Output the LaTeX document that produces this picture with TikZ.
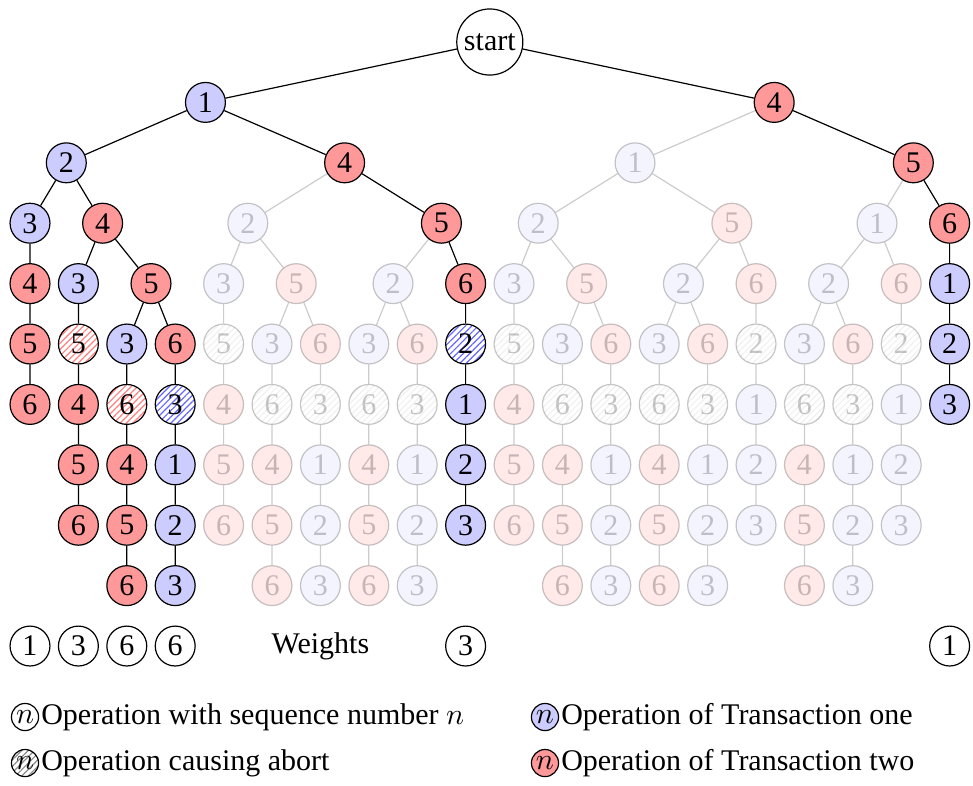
\documentclass[tikz,border=0pt]{standalone}
\usepackage{fontspec}
\setmainfont{Liberation Serif}
\usepackage{tikz}
\usetikzlibrary{positioning,patterns.meta}
\tikzset{
  op/.style={circle, draw, minimum size=13.3pt, inner sep=0pt},
  opone/.style={op, fill=blue!20},
  optwo/.style={op, fill=red!40},
  hatch/.style={pattern={Lines[angle=45, distance=1.5pt, line width=0.4pt]}},
  abortone/.style={op, hatch, pattern color=blue!60},
  aborttwo/.style={op, hatch, pattern color=red!50},
  faded/.style={opacity=0.22},
  fadedabort/.style={op, hatch, pattern color=black!25, faded},
  root/.style={circle, draw, inner sep=1.5pt},
  key/.style={circle, draw, inner sep=0.6pt},
  keytext/.style={inner sep=0.5pt},
  link/.style={draw, black},
  fadedlink/.style={draw, black, opacity=0.2}
}

\begin{document}
\begin{tikzpicture}[x=0.567cm, y=-0.7076cm]
			%%%%% START %%%%%
			\useasboundingbox (-0.6198, -0.6954) rectangle (19.483, 12.301);
			
			\node[root] (start) at (9.5, 0) {start};
			
			\node[opone] (r1a) at (3.625, 1) {1};
			\node[optwo] (r1b) at (15.375, 1) {4};
			
			\node[opone] (r2a) at (0.75, 2) {2};
			\node[optwo] (r2b) at (6.5, 2) {4};
			\node[opone, faded] (r2c) at (12.5, 2) {1};
			\node[optwo] (r2d) at (18.25, 2) {5};
			
			\node[opone] (r3c0) at (0, 3) {3};
			\node[optwo] (r3c1h) at (1.5, 3) {4};
			\node[opone, faded] (r3c4h) at (4.5, 3) {2};
			\node[optwo] (r3c8h) at (8.5, 3) {5};
			\node[opone, faded] (r3c10h) at (10.5, 3) {2};
			\node[optwo, faded] (r3c14h) at (14.5, 3) {5};
			\node[opone, faded] (r3c17h) at (17.5, 3) {1};
			\node[optwo] (r3c19) at (19, 3) {6};
			
			\node[optwo] (r4c0) at (0, 4) {4};
			\node[opone] (r4c1) at (1, 4) {3};
			\node[optwo] (r4c2h) at (2.5, 4) {5};
			\node[opone, faded] (r4c4) at (4, 4) {3};
			\node[optwo, faded] (r4c5h) at (5.5, 4) {5};
			\node[opone, faded] (r4c7h) at (7.5, 4) {2};
			\node[optwo] (r4c9) at (9, 4) {6};
			\node[opone, faded] (r4c10) at (10, 4) {3};
			\node[optwo, faded] (r4c11h) at (11.5, 4) {5};
			\node[opone, faded] (r4c13h) at (13.5, 4) {2};
			\node[optwo, faded] (r4c15) at (15, 4) {6};
			\node[opone, faded] (r4c16h) at (16.5, 4) {2};
			\node[optwo, faded] (r4c18) at (18, 4) {6};
			\node[opone] (r4c19) at (19, 4) {1};
			
			\node[optwo] (r5c0) at (0, 5) {5};
			\node[aborttwo] (r5c1) at (1, 5) {5};
			\node[opone] (r5c2) at (2, 5) {3};
			\node[optwo] (r5c3) at (3, 5) {6};
			\node[fadedabort] (r5c4) at (4, 5) {5};
			\node[opone, faded] (r5c5) at (5, 5) {3};
			\node[optwo, faded] (r5c6) at (6, 5) {6};
			\node[opone, faded] (r5c7) at (7, 5) {3};
			\node[optwo, faded] (r5c8) at (8, 5) {6};
			\node[abortone] (r5c9) at (9, 5) {2};
			\node[fadedabort] (r5c10) at (10, 5) {5};
			\node[opone, faded] (r5c11) at (11, 5) {3};
			\node[optwo, faded] (r5c12) at (12, 5) {6};
			\node[opone, faded] (r5c13) at (13, 5) {3};
			\node[optwo, faded] (r5c14) at (14, 5) {6};
			\node[fadedabort] (r5c15) at (15, 5) {2};
			\node[opone, faded] (r5c16) at (16, 5) {3};
			\node[optwo, faded] (r5c17) at (17, 5) {6};
			\node[fadedabort] (r5c18) at (18, 5) {2};
			\node[opone] (r5c19) at (19, 5) {2};
			
			\node[optwo] (r6c0) at (0, 6) {6};
			\node[optwo] (r6c1) at (1, 6) {4};
			\node[aborttwo] (r6c2) at (2, 6) {6};
			\node[abortone] (r6c3) at (3, 6) {3};
			\node[optwo, faded] (r6c4) at (4, 6) {4};
			\node[fadedabort] (r6c5) at (5, 6) {6};
			\node[fadedabort] (r6c6) at (6, 6) {3};
			\node[fadedabort] (r6c7) at (7, 6) {6};
			\node[fadedabort] (r6c8) at (8, 6) {3};
			\node[opone] (r6c9) at (9, 6) {1};
			\node[optwo, faded] (r6c10) at (10, 6) {4};
			\node[fadedabort] (r6c11) at (11, 6) {6};
			\node[fadedabort] (r6c12) at (12, 6) {3};
			\node[fadedabort] (r6c13) at (13, 6) {6};
			\node[fadedabort] (r6c14) at (14, 6) {3};
			\node[opone, faded] (r6c15) at (15, 6) {1};
			\node[fadedabort] (r6c16) at (16, 6) {6};
			\node[fadedabort] (r6c17) at (17, 6) {3};
			\node[opone, faded] (r6c18) at (18, 6) {1};
			\node[opone] (r6c19) at (19, 6) {3};
			
			\node[optwo] (r7c1) at (1, 7) {5};
			\node[optwo] (r7c2) at (2, 7) {4};
			\node[opone] (r7c3) at (3, 7) {1};
			\node[optwo, faded] (r7c4) at (4, 7) {5};
			\node[optwo, faded] (r7c5) at (5, 7) {4};
			\node[opone, faded] (r7c6) at (6, 7) {1};
			\node[optwo, faded] (r7c7) at (7, 7) {4};
			\node[opone, faded] (r7c8) at (8, 7) {1};
			\node[opone] (r7c9) at (9, 7) {2};
			\node[optwo, faded] (r7c10) at (10, 7) {5};
			\node[optwo, faded] (r7c11) at (11, 7) {4};
			\node[opone, faded] (r7c12) at (12, 7) {1};
			\node[optwo, faded] (r7c13) at (13, 7) {4};
			\node[opone, faded] (r7c14) at (14, 7) {1};
			\node[opone, faded] (r7c15) at (15, 7) {2};
			\node[optwo, faded] (r7c16) at (16, 7) {4};
			\node[opone, faded] (r7c17) at (17, 7) {1};
			\node[opone, faded] (r7c18) at (18, 7) {2};
			
			\node[optwo] (r8c1) at (1, 8) {6};
			\node[optwo] (r8c2) at (2, 8) {5};
			\node[opone] (r8c3) at (3, 8) {2};
			\node[optwo, faded] (r8c4) at (4, 8) {6};
			\node[optwo, faded] (r8c5) at (5, 8) {5};
			\node[opone, faded] (r8c6) at (6, 8) {2};
			\node[optwo, faded] (r8c7) at (7, 8) {5};
			\node[opone, faded] (r8c8) at (8, 8) {2};
			\node[opone] (r8c9) at (9, 8) {3};
			\node[optwo, faded] (r8c10) at (10, 8) {6};
			\node[optwo, faded] (r8c11) at (11, 8) {5};
			\node[opone, faded] (r8c12) at (12, 8) {2};
			\node[optwo, faded] (r8c13) at (13, 8) {5};
			\node[opone, faded] (r8c14) at (14, 8) {2};
			\node[opone, faded] (r8c15) at (15, 8) {3};
			\node[optwo, faded] (r8c16) at (16, 8) {5};
			\node[opone, faded] (r8c17) at (17, 8) {2};
			\node[opone, faded] (r8c18) at (18, 8) {3};
			
			\node[optwo] (r9c2) at (2, 9) {6};
			\node[opone] (r9c3) at (3, 9) {3};
			\node[optwo, faded] (r9c5) at (5, 9) {6};
			\node[opone, faded] (r9c6) at (6, 9) {3};
			\node[optwo, faded] (r9c7) at (7, 9) {6};
			\node[opone, faded] (r9c8) at (8, 9) {3};
			\node[optwo, faded] (r9c11) at (11, 9) {6};
			\node[opone, faded] (r9c12) at (12, 9) {3};
			\node[optwo, faded] (r9c13) at (13, 9) {6};
			\node[opone, faded] (r9c14) at (14, 9) {3};
			\node[optwo, faded] (r9c16) at (16, 9) {6};
			\node[opone, faded] (r9c17) at (17, 9) {3};
			
			% taken paths
			\draw[link] (start) -- (r1a);
			\draw[link] (start) -- (r1b);
			\draw[link] (r1a) -- (r2a);
			\draw[link] (r1a) -- (r2b);
			\draw[link] (r2a) -- (r3c0) -- (r4c0) -- (r5c0) -- (r6c0);
			\draw[link] (r2a) -- (r3c1h);
			\draw[link] (r3c1h) -- (r4c1) -- (r5c1) -- (r6c1) -- (r7c1) -- (r8c1);
			\draw[link] (r3c1h) -- (r4c2h) -- (r5c2) -- (r6c2) -- (r7c2) -- (r8c2) -- (r9c2);
			\draw[link] (r4c2h) -- (r5c3) -- (r6c3) -- (r7c3) -- (r8c3) -- (r9c3);
			\draw[link] (r2b) -- (r3c8h) -- (r4c9) -- (r5c9) -- (r6c9) -- (r7c9) -- (r8c9);
			\draw[link] (r1b) -- (r2d) -- (r3c19) -- (r4c19) -- (r5c19) -- (r6c19);
			
			% pruned paths
			\draw[fadedlink] (r2b) -- (r3c4h);
			\draw[fadedlink] (r3c4h) -- (r4c4) -- (r5c4) -- (r6c4) -- (r7c4) -- (r8c4);
			\draw[fadedlink] (r3c4h) -- (r4c5h) -- (r5c5) -- (r6c5) -- (r7c5) -- (r8c5) -- (r9c5);
			\draw[fadedlink] (r4c5h) -- (r5c6) -- (r6c6) -- (r7c6) -- (r8c6) -- (r9c6);
			\draw[fadedlink] (r3c8h) -- (r4c7h) -- (r5c7) -- (r6c7) -- (r7c7) -- (r8c7) -- (r9c7);
			\draw[fadedlink] (r4c7h) -- (r5c8) -- (r6c8) -- (r7c8) -- (r8c8) -- (r9c8);
			\draw[fadedlink] (r1b) -- (r2c);
			\draw[fadedlink] (r2c) -- (r3c10h) -- (r4c10) -- (r5c10) -- (r6c10) -- (r7c10) -- (r8c10);
			\draw[fadedlink] (r3c10h) -- (r4c11h) -- (r5c11) -- (r6c11) -- (r7c11) -- (r8c11) -- (r9c11);
			\draw[fadedlink] (r4c11h) -- (r5c12) -- (r6c12) -- (r7c12) -- (r8c12) -- (r9c12);
			\draw[fadedlink] (r2c) -- (r3c14h) -- (r4c13h) -- (r5c13) -- (r6c13) -- (r7c13) -- (r8c13) -- (r9c13);
			\draw[fadedlink] (r4c13h) -- (r5c14) -- (r6c14) -- (r7c14) -- (r8c14) -- (r9c14);
			\draw[fadedlink] (r3c14h) -- (r4c15) -- (r5c15) -- (r6c15) -- (r7c15) -- (r8c15);
			\draw[fadedlink] (r2d) -- (r3c17h) -- (r4c16h) -- (r5c16) -- (r6c16) -- (r7c16) -- (r8c16) -- (r9c16);
			\draw[fadedlink] (r4c16h) -- (r5c17) -- (r6c17) -- (r7c17) -- (r8c17) -- (r9c17);
			\draw[fadedlink] (r3c17h) -- (r4c18) -- (r5c18) -- (r6c18) -- (r7c18) -- (r8c18);
			
			% weights
			\node[op] (w0) at (0, 10) {1};
			\node[op] (w1) at (1, 10) {3};
			\node[op] (w2) at (2, 10) {6};
			\node[op] (w3) at (3, 10) {6};
			\node (weights) at (6, 10) {Weights};
			\node[op] (w9) at (9, 10) {3};
			\node[op] (w19) at (19, 10) {1};
			
			% legend
			\node[key] (keyseq) at (-0.103, 11.175) {$n$};
			\node[keytext, right=0pt of keyseq] (txtseq) {Operation with sequence number $n$};
			\node[key, hatch, pattern color=black!45] (keyabort) at (-0.103, 11.937) {$n$};
			\node[keytext, right=0pt of keyabort] (txtabort) {Operation causing abort};
			\node[key, fill=blue!20] (keyone) at (10.64, 11.175) {$n$};
			\node[keytext, right=0pt of keyone] (txtone) {Operation of Transaction one};
			\node[key, fill=red!40] (keytwo) at (10.64, 11.937) {$n$};
			\node[keytext, right=0pt of keytwo] (txttwo) {Operation of Transaction two};
			
			%%%%% END %%%%%
\end{tikzpicture}
\end{document}
